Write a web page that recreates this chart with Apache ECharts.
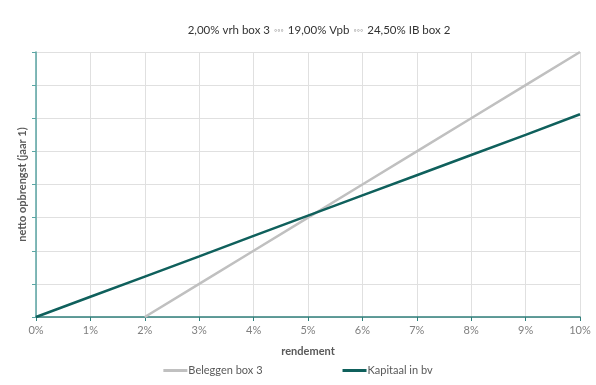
<!DOCTYPE html>
<html><head><meta charset="utf-8">
<script src="https://cdn.jsdelivr.net/npm/echarts@6/dist/echarts.min.js"></script>
<style>html,body{margin:0;padding:0;background:#fff}#c{width:596px;height:385px}</style>
</head><body><div id="c"></div>
<script>
const xTicks = [0,1,2,3,4,5,6,7,8,9,10];
const rendement = [0,1,2,3,4,5,6,7,8,9,10];
const belegenBox3 = [null,null,0,1,2,3,4,5,6,7,8];
const kapitaalBv = [0,0.61,1.22,1.83,2.45,3.06,3.67,4.28,4.89,5.50,6.12];
const titleParts = ['2,00% vrh box 3','19,00% Vpb','24,50% IB box 2'];

const font = 'Lato, "Open Sans", sans-serif';
const chart = echarts.init(document.getElementById('c'));
chart.setOption({
  animation:false,
  title:{
    text: titleParts.map(t=>'{t|'+t+'}').join('{s|  ◦◦◦  }'),
    left: 314, textAlign:'center', top: 19,
    textStyle:{fontWeight:'normal',rich:{t:{fontSize:11.5,color:'#333',fontFamily:font,fontWeight:'normal'},s:{fontSize:8,color:'#999',fontFamily:font,fontWeight:'normal'}}}
  },
  grid:{left:36,right:16,top:52,bottom:68},
  legend:{
    bottom:4, left:'center', itemGap:80, itemWidth:24, itemHeight:3,
    icon:'rect',
    textStyle:{fontSize:11,color:'#595959',fontFamily:font,padding:[0,0,0,-4]},
    data:['Beleggen box 3','Kapitaal in bv']
  },
  xAxis:{
    type:'value', min:0, max:10, interval:1,
    name:'rendement', nameLocation:'middle', nameGap:29,
    nameTextStyle:{fontSize:11,fontWeight:'bold',color:'#595959',fontFamily:font},
    axisLine:{lineStyle:{color:'#2f7f7b',width:1.5}},
    axisTick:{show:true,length:4,lineStyle:{color:'#2f7f7b'}},
    axisLabel:{formatter:v=>v+'%',fontSize:11,color:'#7f7f7f',fontFamily:font,margin:8},
    splitLine:{show:true,lineStyle:{color:'#e0e0e0'}}
  },
  yAxis:{
    type:'value', min:0, max:8, interval:1,
    name:'netto opbrengst (jaar 1)', nameLocation:'middle', nameGap:8,
    nameTextStyle:{fontSize:11,fontWeight:'bold',color:'#595959',fontFamily:font},
    axisLine:{show:true,lineStyle:{color:'#5aa5a3',width:1.5}},
    axisTick:{show:true,length:4,lineStyle:{color:'#5aa5a3'}},
    axisLabel:{show:false},
    splitLine:{show:true,lineStyle:{color:'#e0e0e0'}}
  },
  series:[
    {name:'Beleggen box 3',type:'line',showSymbol:false,symbol:'none',
     data:rendement.map((x,i)=>[x,belegenBox3[i]]),
     lineStyle:{color:'#c0c0c0',width:2.5},itemStyle:{color:'#c0c0c0'}},
    {name:'Kapitaal in bv',type:'line',showSymbol:false,symbol:'none',
     data:rendement.map((x,i)=>[x,kapitaalBv[i]]),
     lineStyle:{color:'#0f605c',width:2.5},itemStyle:{color:'#0f605c'}}
  ]
});
</script></body></html>
